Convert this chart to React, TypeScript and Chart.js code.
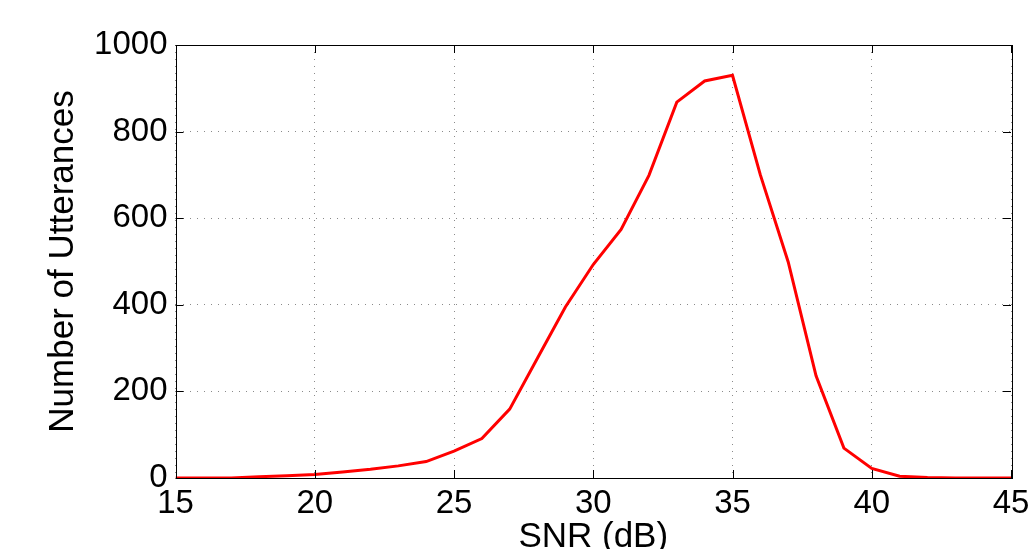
import React, { useEffect, useRef } from "react";
import { Chart, registerables } from "chart.js";

Chart.register(...registerables);

const snrValues = [15, 16, 17, 18, 19, 20, 21, 22, 23, 24, 25, 26, 27, 28, 29, 30, 31, 32, 33, 34, 35, 36, 37, 38, 39, 40, 41, 42, 43, 44, 45];
const utteranceCounts = [0, 0, 0, 3, 5, 8, 14, 20, 28, 38, 62, 91, 159, 277, 395, 493, 574, 699, 868, 917, 930, 700, 499, 236, 69, 22, 4, 1, 0, 0, 0];
const xTicks = [15, 20, 25, 30, 35, 40, 45];
const yTicks = [0, 200, 400, 600, 800, 1000];

const FONT = "'Liberation Sans', Arial, Helvetica, sans-serif";

const framePlugin = {
  id: "matlabFrame",
  afterDatasetsDraw(chart: any) {
    const { ctx, chartArea, scales } = chart;
    const { left, right, top, bottom } = chartArea;
    const tl = 8;
    ctx.save();
    ctx.strokeStyle = "#000";
    ctx.lineWidth = 1;
    ctx.beginPath();
    for (const v of xTicks) {
      const px = Math.round(scales.x.getPixelForValue(v)) + 0.5;
      ctx.moveTo(px, bottom);
      ctx.lineTo(px, bottom - tl);
      ctx.moveTo(px, top);
      ctx.lineTo(px, top + tl);
    }
    for (const v of yTicks) {
      const py = Math.round(scales.y.getPixelForValue(v)) + 0.5;
      ctx.moveTo(left, py);
      ctx.lineTo(left + tl, py);
      ctx.moveTo(right, py);
      ctx.lineTo(right - tl, py);
    }
    ctx.stroke();
    ctx.strokeRect(Math.round(left) + 0.5, Math.round(top) + 0.5, Math.round(right - left), Math.round(bottom - top));
    ctx.restore();
  },
};

export default function App() {
  const ref = useRef<HTMLCanvasElement | null>(null);

  useEffect(() => {
    if (!ref.current) return;
    const data = snrValues.map((x, i) => ({ x, y: utteranceCounts[i] }));
    const chart = new Chart(ref.current, {
      type: "line",
      data: {
        datasets: [
          {
            data,
            borderColor: "#ff0000",
            borderWidth: 3,
            pointRadius: 0,
            tension: 0,
            fill: false,
          },
        ],
      },
      options: {
        responsive: false,
        animation: false,
        events: [],
        layout: { padding: { top: 45, right: 17, left: 0, bottom: 0 } },
        plugins: { legend: { display: false }, tooltip: { enabled: false } },
        scales: {
          x: {
            type: "linear",
            min: 15,
            max: 45,
            afterBuildTicks: (axis: any) => {
              axis.ticks = xTicks.map((v) => ({ value: v }));
            },
            afterFit: (axis: any) => {
              axis.height = 71;
              axis.paddingLeft = 0;
              axis.paddingRight = 0;
            },
            ticks: {
              autoSkip: false,
              maxRotation: 0,
              padding: 6,
              color: "#000",
              font: { family: FONT, size: 33 },
              callback: (v: any) => String(v),
            },
            grid: {
              color: "#8a8a8a",
              lineWidth: 1,
              drawTicks: false,
            },
            border: { display: false, dash: [1, 6] } as any,
            title: {
              display: true,
              text: "SNR (dB)",
              color: "#000",
              font: { family: FONT, size: 35, lineHeight: 1 },
              padding: { top: 0, bottom: -5.5 },
            },
          },
          y: {
            type: "linear",
            min: 0,
            max: 1000,
            afterBuildTicks: (axis: any) => {
              axis.ticks = yTicks.map((v) => ({ value: v }));
            },
            afterFit: (axis: any) => {
              axis.width = 175.5;
              axis.paddingTop = 0;
              axis.paddingBottom = 0;
            },
            ticks: {
              padding: 8,
              color: "#000",
              font: { family: FONT, size: 33 },
              callback: (v: any) => String(v),
            },
            grid: {
              color: "#8a8a8a",
              lineWidth: 1,
              drawTicks: false,
            },
            border: { display: false, dash: [1, 6] } as any,
            title: {
              display: true,
              text: "Number of Utterances",
              color: "#000",
              font: { family: FONT, size: 35, lineHeight: 1 },
              padding: { top: 46, bottom: 0 },
            },
          },
        },
      },
      plugins: [framePlugin],
    } as any);
    return () => chart.destroy();
  }, []);

  return (
    <div style={{ position: "absolute", left: 0, top: 0, width: 1028, height: 549, background: "#fff" }}>
      <canvas ref={ref} width={1028} height={549} style={{ display: "block" }} />
    </div>
  );
}
